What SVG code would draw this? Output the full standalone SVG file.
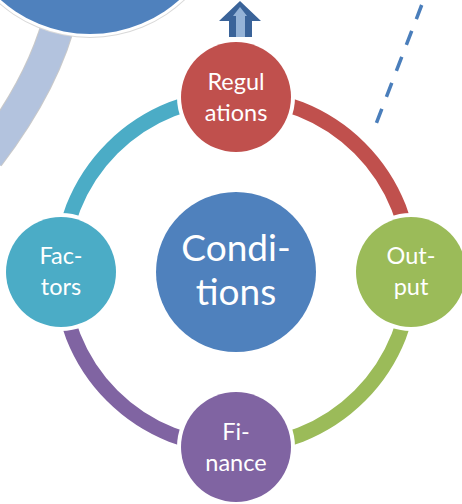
<svg xmlns="http://www.w3.org/2000/svg" width="462" height="504" viewBox="0 0 462 504">
  <defs>
    <style>
      .lbl { font-family: Lato, "Liberation Sans", sans-serif; fill: #ffffff; text-anchor: middle; }
      .sat { font-size: 23.5px; }
      .big { font-size: 37px; }
      .halo { fill: #ffffff; }
      .arc { fill: none; stroke-width: 15; stroke-linecap: butt; }
    </style>
  </defs>
  <rect width="462" height="504" fill="#ffffff"/>

  <!-- background fragments -->
  <g id="bg-band">
    <path d="M 62 10 Q 46 80 -12 156" fill="none" stroke="#c9c9c9" stroke-width="34"/>
    <path d="M 62 10 Q 46 80 -12 156" fill="none" stroke="#b3c3de" stroke-width="32"/>
  </g>
  <g id="bg-circle">
    <circle cx="90" cy="-100" r="138" fill="#d9d9d9"/>
    <circle cx="90" cy="-100" r="137" fill="#ffffff"/>
    <circle cx="90" cy="-100" r="134" fill="#4f81bd"/>
  </g>
  <g id="up-arrow">
    <polygon points="240,1 261,21 252,21 252,37 229,37 229,21 219,21" fill="#3a6399"/>
    <polygon points="240,7 247,16 245,16 245,37 236,37 236,16 233,16" fill="#95b3d7"/>
  </g>
  <line id="dashed-line" x1="421.7" y1="5" x2="376" y2="124" stroke="#4a7ebb" stroke-width="3.5" stroke-dasharray="15 12.8"/>

  <!-- connectors: ring arcs -->
  <g id="connectors">
    <path class="arc" d="M 61 272 A 175 175 0 0 1 236 97" stroke="#4bacc6"/>
    <path class="arc" d="M 236 97 A 175 175 0 0 1 411 272" stroke="#c0504d"/>
    <path class="arc" d="M 411 272 A 175 175 0 0 1 236 447" stroke="#9bbb59"/>
    <path class="arc" d="M 236 447 A 175 175 0 0 1 61 272" stroke="#8064a2"/>
  </g>

  <g id="node-conditions">
    <circle cx="236" cy="272" r="80" fill="#4f81bd"/>
    <text class="lbl big" x="236" y="261">Condi-</text>
    <text class="lbl big" x="236" y="305">tions</text>
  </g>
  <g id="node-regulations">
    <circle class="halo" cx="236" cy="97" r="59"/>
    <circle cx="236" cy="97" r="55" fill="#c0504d"/>
    <text class="lbl sat" x="236" y="90">Regul</text>
    <text class="lbl sat" x="236" y="121">ations</text>
  </g>
  <g id="node-output">
    <circle class="halo" cx="411" cy="272" r="59"/>
    <circle cx="411" cy="272" r="55" fill="#9bbb59"/>
    <text class="lbl sat" x="411" y="264">Out-</text>
    <text class="lbl sat" x="411" y="295">put</text>
  </g>
  <g id="node-finance">
    <circle class="halo" cx="236" cy="447" r="59"/>
    <circle cx="236" cy="447" r="55" fill="#8064a2"/>
    <text class="lbl sat" x="236" y="440">Fi-</text>
    <text class="lbl sat" x="236" y="471">nance</text>
  </g>
  <g id="node-factors">
    <circle class="halo" cx="61" cy="272" r="59"/>
    <circle cx="61" cy="272" r="55" fill="#4bacc6"/>
    <text class="lbl sat" x="61" y="264">Fac-</text>
    <text class="lbl sat" x="61" y="295">tors</text>
  </g>
</svg>
